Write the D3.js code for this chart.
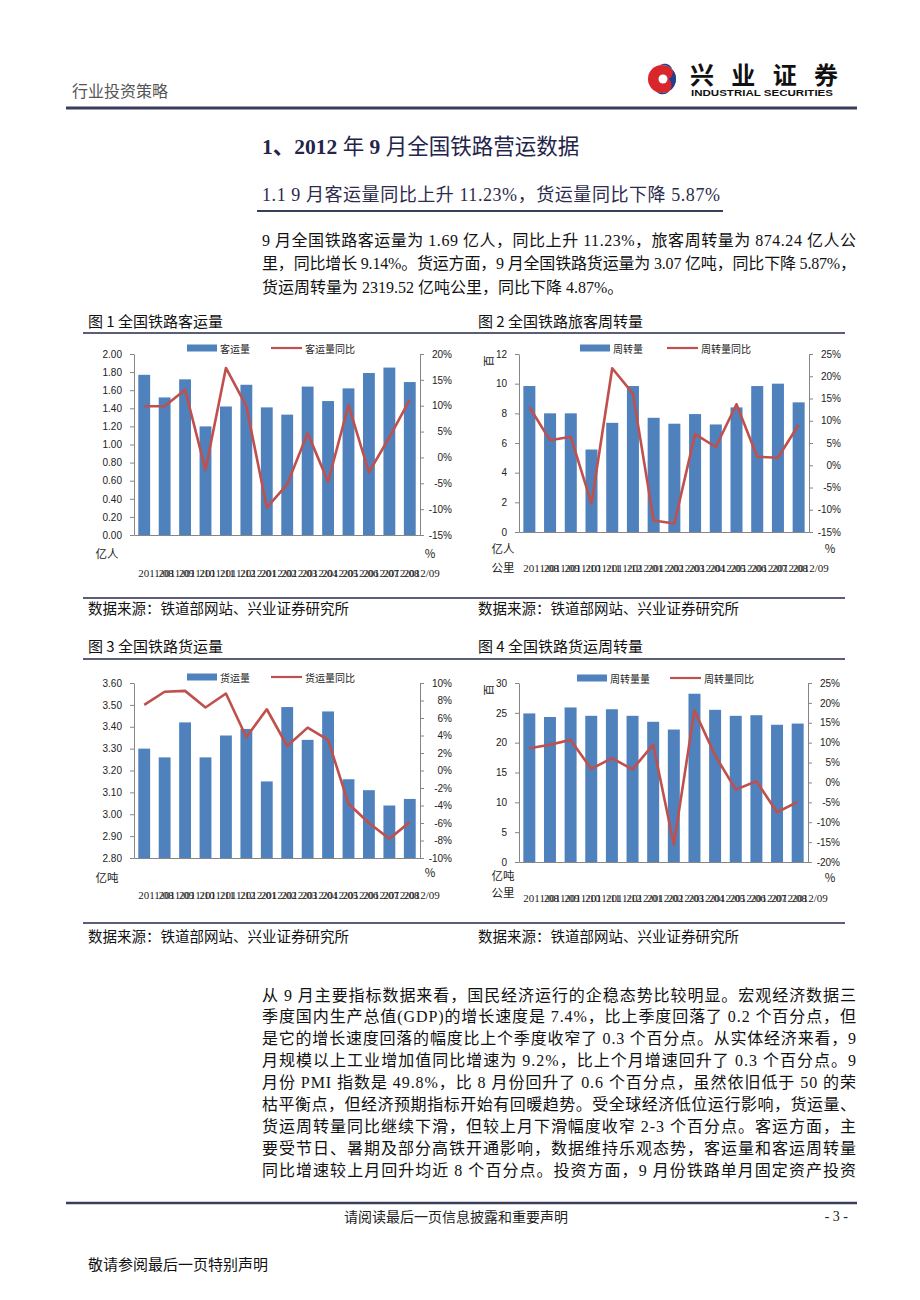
<!DOCTYPE html>
<html>
<head>
<meta charset="utf-8">
<script src="https://cdn.jsdelivr.net/npm/d3@7"></script>
<style>
body { margin: 0; background: #fff; }
svg text { font-family: "Liberation Serif", "Noto Sans CJK SC", serif; }
.axis text { font-family: "Liberation Sans", Arial, sans-serif; font-size: 10px; fill: #222; }
.axis path, .axis line { stroke: #868686; }
</style>
</head>
<body>
<script>
var months = ["2011/08", "2011/09", "2011/10", "2011/11", "2011/12", "2012/01", "2012/02",
  "2012/03", "2012/04", "2012/05", "2012/06", "2012/07", "2012/08", "2012/09"];

// 图1 客运量(亿人) / 同比(%)
var passengerVolume = [1.77, 1.52, 1.72, 1.20, 1.42, 1.66, 1.41, 1.33, 1.64, 1.48, 1.62, 1.79, 1.85, 1.69];
var passengerVolumeYoy = [9.9, 9.9, 13.1, -2.4, 17.3, 9.9, -9.7, -5.2, 4.7, -4.7, 10.1, -2.9, 3.9, 11.2];

// 图2 旅客周转量(百亿人公里) / 同比(%)
var passengerTurnover = [9.84, 8.0, 8.0, 5.56, 7.36, 9.84, 7.70, 7.30, 7.95, 7.25, 8.40, 9.84, 10.0, 8.74];
var passengerTurnoverYoy = [13.1, 5.6, 6.4, -8.6, 21.8, 16.1, -12.4, -13.1, 7.0, 4.1, 13.7, 1.9, 1.7, 9.1];

// 图3 货运量(亿吨) / 同比(%)
var freightVolume = [3.30, 3.26, 3.42, 3.26, 3.36, 3.39, 3.15, 3.49, 3.34, 3.47, 3.16, 3.11, 3.04, 3.07];
var freightVolumeYoy = [7.5, 9.0, 9.1, 7.2, 8.8, 3.8, 7.0, 2.8, 4.9, 3.5, -3.8, -6.0, -7.8, -5.9];

// 图4 货运周转量(百亿吨公里) / 同比(%)
var freightTurnover = [24.9, 24.3, 25.9, 24.5, 25.6, 24.5, 23.5, 22.2, 28.2, 25.5, 24.5, 24.6, 23.0, 23.2];
var freightTurnoverYoy = [8.6, 9.5, 10.7, 3.4, 6.1, 3.3, 9.5, -15.6, 18.1, 6.8, -1.8, 0.3, -7.5, -4.9];

// tick values
var ticks1L = [0, 0.2, 0.4, 0.6, 0.8, 1.0, 1.2, 1.4, 1.6, 1.8, 2.0];
var ticks1R = [-15, -10, -5, 0, 5, 10, 15, 20];
var ticks2L = [0, 2, 4, 6, 8, 10, 12];
var ticks2R = [-15, -10, -5, 0, 5, 10, 15, 20, 25];
var ticks3L = [2.8, 2.9, 3.0, 3.1, 3.2, 3.3, 3.4, 3.5, 3.6];
var ticks3R = [-10, -8, -6, -4, -2, 0, 2, 4, 6, 8, 10];
var ticks4L = [0, 5, 10, 15, 20, 25, 30];
var ticks4R = [-20, -15, -10, -5, 0, 5, 10, 15, 20, 25];

var para1 = [
  "9 月全国铁路客运量为 1.69 亿人，同比上升 11.23%，旅客周转量为 874.24 亿人公",
  "里，同比增长 9.14%。货运方面，9 月全国铁路货运量为 3.07 亿吨，同比下降 5.87%，",
  "货运周转量为 2319.52 亿吨公里，同比下降 4.87%。"
];
var para2 = [
  "从 9 月主要指标数据来看，国民经济运行的企稳态势比较明显。宏观经济数据三",
  "季度国内生产总值(GDP)的增长速度是 7.4%，比上季度回落了 0.2 个百分点，但",
  "是它的增长速度回落的幅度比上个季度收窄了 0.3 个百分点。从实体经济来看，9",
  "月规模以上工业增加值同比增速为 9.2%，比上个月增速回升了 0.3 个百分点。9",
  "月份 PMI 指数是 49.8%，比 8 月份回升了 0.6 个百分点，虽然依旧低于 50 的荣",
  "枯平衡点，但经济预期指标开始有回暖趋势。受全球经济低位运行影响，货运量、",
  "货运周转量同比继续下滑，但较上月下滑幅度收窄 2-3 个百分点。客运方面，主",
  "要受节日、暑期及部分高铁开通影响，数据维持乐观态势，客运量和客运周转量",
  "同比增速较上月回升均近 8 个百分点。投资方面，9 月份铁路单月固定资产投资"
];

var svg = d3.select("body").append("svg")
    .attr("width", 920)
    .attr("height", 1300);

svg.append("rect").attr("width", 920).attr("height", 1300).attr("fill", "#fff");

var navy = "#3a3d5c";

// header
svg.append("text").attr("x", 72).attr("y", 90).attr("dominant-baseline", "central")
    .attr("font-size", 16).attr("fill", "#555")
    .style("font-family", "'Noto Sans CJK SC'").text("行业投资策略");

// logo
var logo = svg.append("g").attr("transform", "translate(662,79)");
logo.append("circle").attr("r", 14).attr("fill", "#d9262b");
logo.append("path").attr("d", "M-2,-14 A14,14 0 0,1 14,0 A14,14 0 0,1 -6,12.6 A9,9 0 0,0 7,0 A8,8 0 0,0 -2,-14Z")
    .attr("fill", "#1f3f8f");
logo.append("circle").attr("cx", 1).attr("cy", 0).attr("r", 4.5).attr("fill", "#fff");
svg.append("text").attr("x", 690).attr("y", 73).attr("dominant-baseline", "central")
    .attr("font-size", 24).attr("font-weight", "bold").attr("fill", "#111")
    .attr("textLength", 148).attr("lengthAdjust", "spacing")
    .style("font-family", "'Noto Sans CJK SC'").text("兴业证券");
svg.append("text").attr("x", 691).attr("y", 92).attr("dominant-baseline", "central")
    .attr("font-size", 9.5).attr("font-weight", "bold").attr("fill", "#111")
    .attr("textLength", 142).attr("lengthAdjust", "spacingAndGlyphs")
    .style("font-family", "'Liberation Sans Narrow', 'Liberation Sans'").text("INDUSTRIAL SECURITIES");

svg.append("line").attr("x1", 66).attr("x2", 857).attr("y1", 108).attr("y2", 108)
    .attr("stroke", navy).attr("stroke-width", 3);

// section title
var t1 = svg.append("text").attr("x", 262).attr("y", 147).attr("dominant-baseline", "central")
    .attr("font-size", 21.5).attr("fill", "#24244a");
t1.append("tspan").attr("font-weight", "bold").text("1、2012 ");
t1.append("tspan").text("年 ");
t1.append("tspan").attr("font-weight", "bold").text("9 ");
t1.append("tspan").text("月全国铁路营运数据");

svg.append("text").attr("x", 262).attr("y", 195).attr("dominant-baseline", "central")
    .attr("font-size", 18).attr("fill", "#2b2b4b")
    .attr("textLength", 458).attr("lengthAdjust", "spacing")
    .text("1.1  9 月客运量同比上升 11.23%，货运量同比下降 5.87%");
svg.append("line").attr("x1", 257).attr("x2", 723).attr("y1", 211).attr("y2", 211)
    .attr("stroke", navy).attr("stroke-width", 2);

function drawPara(lines, y0, step, justifyAll) {
  lines.forEach(function(s, i) {
    var t = svg.append("text").attr("x", 262).attr("y", y0 + i * step)
        .attr("dominant-baseline", "central").attr("font-size", 16).attr("fill", "#111")
        .text(s);
    if (justifyAll || i < lines.length - 1) {
      t.attr("textLength", 594).attr("lengthAdjust", "spacing");
    }
  });
}
drawPara(para1, 240, 23.5, false);
drawPara(para2, 995, 21.9, true);

// figure frames
function smallText(x, y, s, size) {
  return svg.append("text").attr("x", x).attr("y", y).attr("dominant-baseline", "central")
      .attr("font-size", size).attr("fill", "#111")
      .style("font-family", "'Noto Sans CJK SC'").text(s);
}
smallText(88, 320, "图 1 全国铁路客运量", 15);
smallText(478, 320, "图 2 全国铁路旅客周转量", 15);
smallText(88, 645, "图 3 全国铁路货运量", 15);
smallText(478, 645, "图 4 全国铁路货运周转量", 15);
smallText(88, 607, "数据来源：铁道部网站、兴业证券研究所", 14.5);
smallText(478, 607, "数据来源：铁道部网站、兴业证券研究所", 14.5);
smallText(88, 935, "数据来源：铁道部网站、兴业证券研究所", 14.5);
smallText(478, 935, "数据来源：铁道部网站、兴业证券研究所", 14.5);
[333, 598, 659, 923].forEach(function(y) {
  svg.append("line").attr("x1", 83).attr("x2", 845).attr("y1", y).attr("y2", y)
      .attr("stroke", "#5b5e78").attr("stroke-width", 2);
});

function drawChart(c) {
  var g = svg.append("g");
  var x = d3.scaleBand().domain(months).range([c.left, c.right])
      .paddingInner(0.42).paddingOuter(0.21);
  var yL = d3.scaleLinear().domain(c.leftDomain).range([c.bottom, c.top]);
  var yR = d3.scaleLinear().domain(c.rightDomain).range([c.bottom, c.top]);

  g.selectAll("rect.bar").data(c.bars).enter().append("rect")
      .attr("class", "bar")
      .attr("x", function(d, i) { return x(months[i]); })
      .attr("y", function(d) { return yL(d); })
      .attr("width", x.bandwidth())
      .attr("height", function(d) { return c.bottom - yL(d); })
      .attr("fill", "#4f81bd");

  g.append("g").attr("class", "axis")
      .attr("transform", "translate(" + c.left + ",0)")
      .call(d3.axisLeft(yL).tickValues(c.leftTicks).tickFormat(c.leftFmt).tickSize(4).tickPadding(8).tickSizeOuter(0));

  var ra = g.append("g").attr("class", "axis")
      .attr("transform", "translate(" + c.right + ",0)")
      .call(d3.axisRight(yR).tickValues(c.rightTicks).tickFormat(function(d) { return d + "%"; }).tickSize(4).tickSizeOuter(0));
  ra.selectAll("text").attr("x", 32).attr("text-anchor", "end");

  var ba = g.append("g").attr("class", "axis")
      .attr("transform", "translate(0," + c.bottom + ")")
      .call(d3.axisBottom(x).tickSize(0).tickSizeOuter(0));
  ba.selectAll("text")
      .attr("y", c.xLabelY - c.bottom)
      .attr("dy", "0.35em")
      .attr("dx", -6)
      .attr("text-anchor", "start")
      .style("font-family", "'Liberation Serif', serif")
      .style("font-size", "11px");

  var line = d3.line()
      .x(function(d, i) { return x(months[i]) + x.bandwidth() / 2; })
      .y(function(d) { return yR(d); });
  g.append("path").datum(c.yoy).attr("d", line)
      .attr("fill", "none").attr("stroke", "#c0504d").attr("stroke-width", 2.6)
      .attr("stroke-linejoin", "round");

  // legend
  g.append("rect").attr("x", c.lg[0]).attr("y", c.legendY - 3.5).attr("width", 30).attr("height", 7).attr("fill", "#4f81bd");
  g.append("text").attr("x", c.lg[0] + 33).attr("y", c.legendY).attr("dominant-baseline", "central")
      .attr("font-size", 10).style("font-family", "'Noto Sans CJK SC'").attr("fill", "#222").text(c.barName);
  g.append("line").attr("x1", c.lg[1]).attr("x2", c.lg[1] + 31).attr("y1", c.legendY).attr("y2", c.legendY)
      .attr("stroke", "#c0504d").attr("stroke-width", 2.2);
  g.append("text").attr("x", c.lg[1] + 34).attr("y", c.legendY).attr("dominant-baseline", "central")
      .attr("font-size", 10).style("font-family", "'Noto Sans CJK SC'").attr("fill", "#222").text(c.lineName);

  // units
  c.units.forEach(function(u) {
    var t = g.append("text").attr("x", u[0]).attr("y", u[1]).attr("dominant-baseline", "central")
        .attr("text-anchor", "middle").attr("font-size", 11.5).attr("fill", "#222")
        .style("font-family", "'Noto Sans CJK SC'").text(u[2]);
    if (u[3]) t.attr("transform", "rotate(-90," + u[0] + "," + u[1] + ")");
  });
}

var fmt2 = d3.format(".2f");

drawChart({
  left: 134, right: 420, top: 354, bottom: 535,
  leftDomain: [0, 2], rightDomain: [-15, 20],
  leftTicks: ticks1L, rightTicks: ticks1R, leftFmt: fmt2,
  bars: passengerVolume, yoy: passengerVolumeYoy,
  barName: "客运量", lineName: "客运量同比",
  legendY: 348, lg: [187, 271],
  xLabelY: 573,
  units: [[107, 553, "亿人"], [430, 553, "%"]]
});

drawChart({
  left: 519, right: 809, top: 354, bottom: 532,
  leftDomain: [0, 12], rightDomain: [-15, 25],
  leftTicks: ticks2L, rightTicks: ticks2R, leftFmt: d3.format("d"),
  bars: passengerTurnover, yoy: passengerTurnoverYoy,
  barName: "周转量", lineName: "周转量同比",
  legendY: 348, lg: [580, 667],
  xLabelY: 568,
  units: [[488, 361, "百", true], [503, 548, "亿人"], [503, 567, "公里"], [830, 548, "%"]]
});

drawChart({
  left: 134, right: 420, top: 683, bottom: 858,
  leftDomain: [2.8, 3.6], rightDomain: [-10, 10],
  leftTicks: ticks3L, rightTicks: ticks3R, leftFmt: fmt2,
  bars: freightVolume, yoy: freightVolumeYoy,
  barName: "货运量", lineName: "货运量同比",
  legendY: 677, lg: [187, 271],
  xLabelY: 895,
  units: [[107, 877, "亿吨"], [430, 872, "%"]]
});

drawChart({
  left: 519, right: 808, top: 683, bottom: 862,
  leftDomain: [0, 30], rightDomain: [-20, 25],
  leftTicks: ticks4L, rightTicks: ticks4R, leftFmt: d3.format("d"),
  bars: freightTurnover, yoy: freightTurnoverYoy,
  barName: "周转量量", lineName: "周转量同比",
  legendY: 678, lg: [577, 670],
  xLabelY: 898,
  units: [[488, 690, "百", true], [503, 875, "亿吨"], [503, 892, "公里"], [830, 877, "%"]]
});

// footer
svg.append("line").attr("x1", 66).attr("x2", 857).attr("y1", 1203).attr("y2", 1203)
    .attr("stroke", navy).attr("stroke-width", 2.5);
svg.append("text").attr("x", 456).attr("y", 1216).attr("dominant-baseline", "central")
    .attr("text-anchor", "middle").attr("font-size", 14).attr("fill", "#222")
    .style("font-family", "'Noto Sans CJK SC'").text("请阅读最后一页信息披露和重要声明");
svg.append("text").attr("x", 848).attr("y", 1216).attr("dominant-baseline", "central")
    .attr("text-anchor", "end").attr("font-size", 14).attr("fill", "#222")
    .text("- 3 -");
smallText(88, 1263, "敬请参阅最后一页特别声明", 15);
</script>
</body>
</html>
